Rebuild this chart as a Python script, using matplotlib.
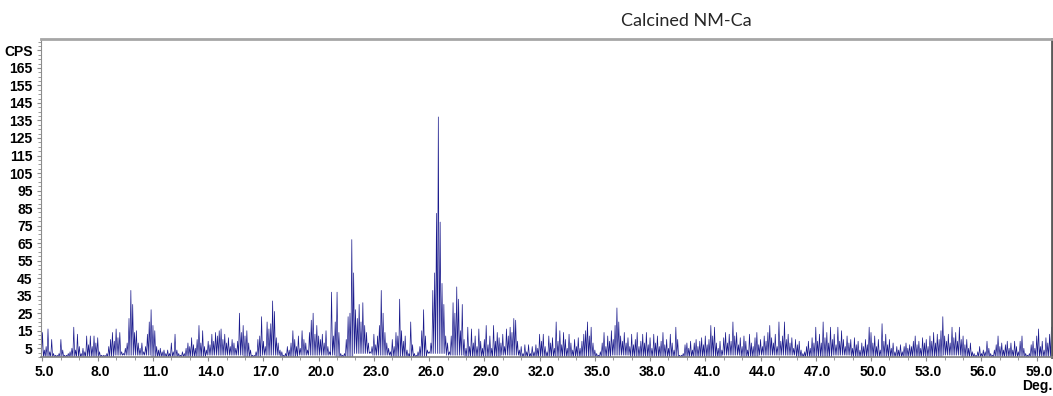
import matplotlib.pyplot as plt
from matplotlib.ticker import MultipleLocator
from matplotlib.transforms import ScaledTranslation
import numpy as np

# scan start / step (deg 2-theta)
start_deg = 4.9
step_deg = 0.1

# spike heights (CPS) read every 0.1 deg, 4.9 ... 59.8
cps_top = [
    15,
    14, 4, 6, 16, 3, 10, 2, 1, 1, 2,            # 5
    10, 4, 1, 1, 2, 3, 5, 17, 4, 13,            # 6
    6, 2, 5, 3, 12, 7, 12, 6, 12, 8,            # 7
    11, 3, 1, 1, 1, 2, 6, 10, 14, 9,            # 8
    16, 11, 14, 3, 2, 5, 8, 22, 38, 30,         # 9
    14, 15, 8, 5, 8, 3, 6, 13, 20, 27,          # 10
    18, 15, 6, 4, 5, 3, 4, 2, 4, 2,             # 11
    8, 3, 13, 4, 2, 1, 3, 2, 5, 8,              # 12
    6, 11, 7, 5, 10, 18, 8, 15, 6, 4,           # 13
    9, 7, 13, 9, 14, 12, 15, 16, 10, 13,        # 14
    8, 11, 6, 10, 8, 5, 9, 25, 14, 18,          # 15
    12, 15, 8, 4, 1, 1, 3, 10, 12, 23,          # 16
    9, 6, 20, 16, 19, 32, 26, 11, 8, 4,         # 17
    3, 1, 2, 6, 4, 8, 15, 10, 6, 12,            # 18
    5, 15, 10, 8, 4, 14, 21, 25, 13, 18,        # 19
    12, 10, 13, 8, 15, 6, 3, 37, 12, 20,        # 20
    37, 14, 2, 1, 2, 10, 23, 25, 67, 48,        # 21
    27, 22, 30, 20, 31, 18, 14, 8, 3, 6,        # 22
    13, 7, 12, 18, 38, 25, 14, 8, 5, 3,         # 23
    10, 6, 14, 12, 33, 15, 9, 12, 4, 2,         # 24
    20, 7, 2, 1, 3, 6, 15, 27, 12, 4,           # 25
    3, 8, 38, 48, 82, 137, 77, 42, 30, 12,      # 26
    8, 3, 12, 31, 25, 40, 33, 15, 30, 10,       # 27
    5, 17, 6, 16, 8, 12, 6, 16, 9, 5,           # 28
    10, 18, 7, 12, 5, 18, 9, 14, 11, 8,         # 29
    13, 6, 16, 12, 17, 14, 22, 21, 9, 4,        # 30
    6, 2, 7, 3, 7, 2, 6, 3, 7, 5,               # 31
    13, 9, 13, 6, 3, 12, 8, 11, 5, 20,          # 32
    9, 15, 7, 14, 10, 5, 13, 8, 4, 10,          # 33
    6, 11, 5, 9, 13, 15, 20, 12, 17, 8,         # 34
    4, 2, 1, 3, 8, 14, 6, 12, 9, 15,            # 35
    10, 18, 28, 20, 12, 9, 14, 8, 11, 6,        # 36
    13, 7, 10, 14, 6, 9, 13, 8, 14, 7,          # 37
    11, 5, 13, 8, 12, 6, 9, 14, 7, 10,          # 38
    5, 13, 8, 4, 17, 10, 1, 1, 2, 7,            # 39
    8, 5, 9, 4, 8, 10, 6, 9, 11, 7,             # 40
    12, 7, 10, 18, 12, 17, 8, 5, 9, 4,          # 41
    11, 14, 8, 13, 9, 20, 12, 14, 7, 11,        # 42
    6, 12, 9, 4, 13, 8, 6, 11, 14, 7,           # 43
    10, 6, 12, 9, 14, 18, 11, 8, 13, 6,         # 44
    20, 9, 12, 20, 10, 13, 8, 11, 5, 10,        # 45
    7, 9, 4, 2, 3, 6, 9, 5, 11, 8,              # 46
    17, 9, 13, 8, 20, 11, 14, 8, 17, 10,        # 47
    13, 7, 17, 9, 15, 10, 6, 12, 8, 10,         # 48
    5, 11, 7, 9, 4, 8, 6, 10, 7, 17,            # 49
    14, 8, 12, 6, 10, 4, 19, 9, 13, 7,          # 50
    10, 5, 8, 3, 6, 4, 7, 3, 6, 8,              # 51
    5, 7, 6, 9, 12, 7, 9, 5, 11, 8,             # 52
    10, 6, 12, 9, 14, 8, 13, 10, 15, 23,        # 53
    12, 9, 13, 8, 17, 11, 14, 9, 17, 10,        # 54
    12, 7, 10, 5, 8, 3, 2, 1, 3, 6,             # 55
    2, 4, 3, 9, 5, 2, 1, 4, 7, 12,              # 56
    6, 8, 4, 7, 9, 5, 8, 4, 9, 6,               # 57
    3, 9, 12, 5, 2, 1, 2, 7, 9, 5,              # 58
    12, 16, 6, 9, 4, 11, 8, 13, 17,             # 59
]

# lowest counts between spikes, one value per whole degree 4 ... 59
cps_floor = [0, 0, 0, 0, 0, 1, 1, 0, 0, 0, 1, 1, 0, 1, 0, 1, 1, 0, 2, 1,
             0, 0, 2, 1, 0, 0, 1, 0, 0, 0, 0, 0, 1, 0, 0, 0, 0, 0, 1, 0,
             1, 1, 0, 0, 1, 0, 0, 0, 0, 0, 1, 0, 0, 0, 0, 0]
floor_first_deg = 4

x_ticks = np.arange(5.0, 60.0, 3.0)
y_ticks = list(range(5, 170, 10)) + [175]
y_labels = [str(v) for v in y_ticks[:-1]] + ["CPS"]

# build the trace: each bin drops to its floor, then rises to its spike
deg = start_deg + step_deg * np.arange(len(cps_top))
whole = np.floor(deg + 1e-6).astype(int) - floor_first_deg
low = np.array(cps_floor)[whole]
xs = np.empty(2 * len(deg))
ys = np.empty(2 * len(deg))
xs[0::2] = deg - step_deg / 2
ys[0::2] = low
xs[1::2] = deg
ys[1::2] = cps_top

fig = plt.figure(figsize=(10.53, 3.96), dpi=100)
ax = fig.add_axes([41 / 1053, 39 / 396, 1011 / 1053, 318 / 396])

ax.plot(xs, ys, color='#1a1a8c', linewidth=0.5)

ax.set_xlim(4.92, 59.83)
ax.set_ylim(0, 181.5)

ax.set_xticks(x_ticks)
ax.set_xticklabels([f"{v:.1f}" for v in x_ticks])
ax.xaxis.set_minor_locator(MultipleLocator(1.0))
ax.set_yticks(y_ticks)
ax.set_yticklabels(y_labels)
ax.yaxis.set_minor_locator(MultipleLocator(2.5))

ax.tick_params(axis='both', which='both', direction='out', color='#8c8c8c')
ax.tick_params(axis='both', which='major', length=3, labelsize=10, pad=3)
ax.tick_params(axis='both', which='minor', length=2)
for lab in ax.get_xticklabels() + ax.get_yticklabels():
    lab.set_fontweight('bold')
    lab.set_fontfamily('Liberation Sans')
# labels sit a little to the right of their ticks
shift = ScaledTranslation(1.5 / 72, 0, fig.dpi_scale_trans)
for lab in ax.get_xticklabels():
    lab.set_transform(lab.get_transform() + shift)

ax.spines['left'].set_color('#8c8c8c')
ax.spines['bottom'].set_color('#808080')
ax.spines['bottom'].set_linewidth(1.2)
ax.spines['top'].set_color('#a6a6a6')
ax.spines['top'].set_linewidth(2)
ax.spines['right'].set_color('#5a5a5a')
ax.spines['right'].set_linewidth(2)

fig.text(686 / 1053, 1 - 21 / 396, "Calcined NM-Ca", ha='center', va='center',
         fontsize=13, family='Lato', color='#262626')
fig.text(1037 / 1053, 1 - 386 / 396, "Deg.", ha='center', va='center',
         fontsize=10, fontweight='bold', family='Liberation Sans')

fig.savefig("out.png", dpi=100)
